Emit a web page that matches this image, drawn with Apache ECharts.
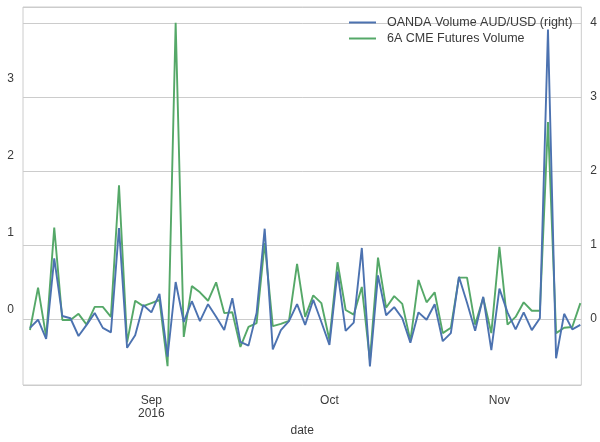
<!DOCTYPE html>
<html>
<head>
<meta charset="utf-8">
<script src="https://cdn.jsdelivr.net/npm/echarts@6/dist/echarts.min.js"></script>
<style>html,body{margin:0;padding:0;background:#fff;}#c{width:600px;height:442px;}</style>
</head>
<body>
<div id="c"></div>
<script>
const dates = [
'2016-08-11','2016-08-12','2016-08-15','2016-08-16','2016-08-17','2016-08-18','2016-08-19','2016-08-22','2016-08-23','2016-08-24','2016-08-25','2016-08-26','2016-08-29','2016-08-30','2016-08-31',
'2016-09-01','2016-09-02','2016-09-05','2016-09-06','2016-09-07','2016-09-08','2016-09-09','2016-09-12','2016-09-13','2016-09-14','2016-09-15','2016-09-16','2016-09-19','2016-09-20','2016-09-21','2016-09-22','2016-09-23','2016-09-26','2016-09-27','2016-09-28','2016-09-29','2016-09-30',
'2016-10-03','2016-10-04','2016-10-05','2016-10-06','2016-10-07','2016-10-10','2016-10-11','2016-10-12','2016-10-13','2016-10-14','2016-10-17','2016-10-18','2016-10-19','2016-10-20','2016-10-21','2016-10-24','2016-10-25','2016-10-26','2016-10-27','2016-10-28','2016-10-31',
'2016-11-01','2016-11-02','2016-11-03','2016-11-04','2016-11-07','2016-11-08','2016-11-09','2016-11-10','2016-11-11','2016-11-14','2016-11-15'
];
const oandaVolume = [
-0.12,-0.01,-0.27,0.82,0.04,0.01,-0.23,-0.08,0.08,-0.12,-0.18,1.23,-0.39,-0.22,0.19,
0.09,0.34,-0.51,0.50,-0.04,0.24,-0.03,0.20,0.03,-0.15,0.28,-0.31,-0.36,0.08,1.22,-0.41,-0.15,-0.03,0.20,-0.08,0.26,-0.04,
-0.35,0.64,-0.16,-0.05,0.96,-0.64,0.59,0.05,0.16,0.01,-0.32,0.09,-0.01,0.20,-0.30,-0.19,0.57,0.22,-0.16,0.30,-0.42,
0.41,0.09,-0.14,0.09,-0.15,0.01,3.91,-0.53,0.07,-0.14,-0.08
];
const cmeVolume = [
-0.26,0.29,-0.35,1.07,-0.13,-0.13,-0.05,-0.19,0.04,0.04,-0.09,1.62,-0.42,0.12,0.05,
0.09,0.13,-0.73,3.73,-0.35,0.31,0.23,0.12,0.36,-0.04,-0.03,-0.48,-0.22,-0.17,0.87,-0.21,-0.18,-0.14,0.60,-0.09,0.19,0.09,
-0.39,0.62,0.00,-0.06,0.30,-0.65,0.68,0.03,0.18,0.08,-0.40,0.39,0.10,0.23,-0.30,-0.23,0.42,0.42,-0.19,0.16,-0.30,
0.82,-0.19,-0.09,0.10,-0.01,-0.01,2.44,-0.30,-0.23,-0.22,0.09
];
const tickDates = ['2016-09-01','2016-10-03','2016-11-01'];
const tickLabels = ['Sep\n2016','Oct','Nov'];
const seriesNames = ['OANDA Volume AUD/USD (right)','6A CME Futures Volume'];

const tickIdx = tickDates.map(d => dates.indexOf(d));
const labelFor = {};
tickIdx.forEach((i, k) => { labelFor[i] = tickLabels[k]; });

const chart = echarts.init(document.getElementById('c'), null, {renderer: 'canvas'});
const txt = {color: '#3a3a3a', fontSize: 12, fontFamily: 'Liberation Sans, Arial, sans-serif'};
chart.setOption({
  animation: false,
  backgroundColor: '#fff',
  grid: {left: 23, right: 17, top: 7, bottom: 57, show: true, borderColor: '#cccccc', borderWidth: 1, backgroundColor: 'transparent'},
  legend: {
    data: seriesNames, orient: 'vertical', left: 344, top: 11, itemGap: 3,
    icon: 'rect', itemWidth: 27, itemHeight: 2,
    textStyle: Object.assign({}, txt, {fontSize: 12.5, padding: [0,0,0,6]})
  },
  xAxis: {
    type: 'value', min: -0.86, max: 68.12,
    name: 'date', nameLocation: 'middle', nameGap: 39,
    nameTextStyle: txt,
    axisLine: {show: false}, splitLine: {show: false},
    axisTick: {show: false, customValues: tickIdx},
    axisLabel: Object.assign({}, txt, {customValues: tickIdx, margin: 9, lineHeight: 13,
      formatter: v => labelFor[Math.round(v)] || ''})
  },
  yAxis: [
    {type: 'value', min: -0.974, max: 3.935, position: 'left',
     axisLine: {show: false}, axisTick: {show: false}, splitLine: {show: false},
     axisLabel: Object.assign({}, txt, {margin: 9, showMinLabel: false, showMaxLabel: false})},
    {type: 'value', min: -0.892, max: 4.216, position: 'right',
     axisLine: {show: false}, axisTick: {show: false},
     splitLine: {show: true, lineStyle: {color: '#cccccc', width: 1}},
     axisLabel: Object.assign({}, txt, {margin: 9, showMinLabel: false, showMaxLabel: false})}
  ],
  series: [
    {name: seriesNames[1], type: 'line', yAxisIndex: 0, showSymbol: false, symbol: 'none',
     color: '#55A868', lineStyle: {width: 1.9, color: '#55A868'},
     data: cmeVolume.map((v, i) => [i, v])},
    {name: seriesNames[0], type: 'line', yAxisIndex: 1, showSymbol: false, symbol: 'none',
     color: '#4C72B0', lineStyle: {width: 1.9, color: '#4C72B0'},
     data: oandaVolume.map((v, i) => [i, v])}
  ]
});
</script>
</body>
</html>
